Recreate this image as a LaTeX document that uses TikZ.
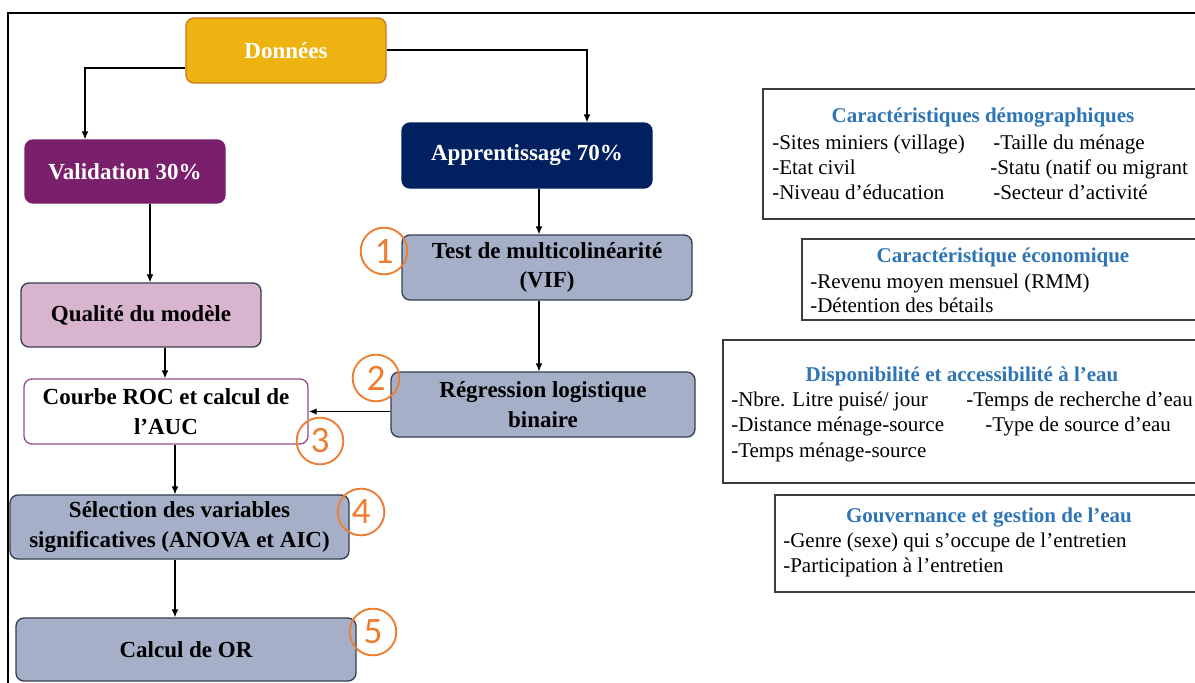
\documentclass[tikz,border=0pt]{standalone}
\usepackage{fontspec}
\setmainfont{Liberation Serif}
\newfontfamily\chiffres{Carlito}
\usetikzlibrary{arrows.meta}
\definecolor{jaune}{RGB}{238,178,17}
\definecolor{jaunebord}{RGB}{200,120,30}
\definecolor{violet}{RGB}{122,31,107}
\definecolor{marine}{RGB}{0,32,96}
\definecolor{grisbleu}{RGB}{166,175,200}
\definecolor{grisbord}{RGB}{52,62,78}
\definecolor{rose}{RGB}{217,180,207}
\definecolor{orangenum}{RGB}{237,125,49}
\definecolor{bleutitre}{RGB}{46,117,182}
\definecolor{cadregris}{RGB}{60,60,60}
\tikzset{
    etape/.style={rounded corners=6pt, line width=1pt, align=center, inner sep=2pt, font=\fontsize{17.25}{22}\selectfont\bfseries},
    gris/.style={etape, fill=grisbleu, draw=grisbord},
    fleche/.style={-{Latex[length=6pt,width=5pt]}, line width=0.8pt},
    numero/.style={circle, draw=orangenum, line width=1.4pt, minimum size=35pt, inner sep=0pt, text=orangenum, font=\chiffres\fontsize{28}{28}\selectfont},
    liste/.style={anchor=mid west, inner sep=0pt, font=\fontsize{15.75}{18}\selectfont},
    titre/.style={anchor=mid, inner sep=0pt, text=bleutitre, font=\fontsize{15.75}{18}\selectfont\bfseries},
    cadre/.style={draw=cadregris, line width=1.1pt, fill=white}
}
\begin{document}
\begin{tikzpicture}[x=0.75pt, y=-0.75pt]
    \useasboundingbox (0,0) rectangle (1195,682);
    \clip (0,0) rectangle (1195,682);
    \draw[line width=1.4pt] (8,690) -- (8,13) -- (1200,13);

    \node[etape, fill=jaune, draw=jaunebord, text=white, minimum width=150pt, minimum height=48.75pt] (donnees) at (286,50.5) {Données};
    \node[etape, fill=violet, draw=violet, text=white, minimum width=150pt, minimum height=47.25pt] (valid) at (125,171.5) {Validation 30\%};
    \node[etape, fill=marine, draw=marine, text=white, minimum width=187.5pt, minimum height=48.75pt] (appr) at (527,155.5) {Apprentissage 70\%};
    \node[gris, minimum width=217.5pt, minimum height=48.75pt] (vif) at (547,267.5) {Test de multicolinéarité\\(VIF)};
    \node[etape, fill=rose, draw=grisbord, minimum width=180pt, minimum height=48pt] (qual) at (141,315) {Qualité du modèle};
    \node[gris, minimum width=228pt, minimum height=48.75pt] (regr) at (543,404.5) {Régression logistique\\binaire};
    \node[etape, fill=white, draw=violet!80, minimum width=213pt, minimum height=48.75pt] (roc) at (166,411.5) {Courbe ROC et calcul de\\l’AUC};
    \node[gris, minimum width=254.25pt, minimum height=48pt] (sel) at (179.5,527) {Sélection des variables\\significatives (ANOVA et AIC)};
    \node[gris, minimum width=255pt, minimum height=47.25pt] (calc) at (186,649.5) {Calcul de OR};

    \coordinate (gauche) at (85,68);
    \coordinate (droite) at (587,50);
    \coordinate (col1) at (150,0);
    \coordinate (col2) at (165,0);
    \coordinate (col3) at (175,0);
    \coordinate (col4) at (539,0);
    \draw[fleche] (donnees.west |- gauche) -| (valid.north -| gauche);
    \draw[fleche] (donnees.east |- droite) -| (appr.north -| droite);
    \draw[fleche] (appr.south -| col4) -- (vif.north -| col4);
    \draw[fleche] (vif.south -| col4) -- (regr.north -| col4);
    \draw[fleche] (valid.south -| col1) -- (qual.north -| col1);
    \draw[fleche] (qual.south -| col2) -- (roc.north -| col2);
    \draw[fleche, line width=1.3pt] (roc.east -| regr.west) -- (roc.east);
    \draw[fleche] (roc.south -| col3) -- (sel.north -| col3);
    \draw[fleche] (sel.south -| col3) -- (calc.north -| col3);

    \node[numero] (n1) at (384,251) {1};
    \node[numero] (n2) at (376,378) {2};
    \node[numero] (n3) at (320,441) {3};
    \node[numero] (n4) at (361,512) {4};
    \node[numero] (n5) at (373,632) {5};

    \draw[cadre] (763,89) rectangle (1215,219);
    \node[titre] (tdemo) at (983,119) {Caractéristiques démographiques};
    \node[liste] (d1) at (772,146) {-Sites miniers (village)};
    \node[liste] (d2) at (993,146) {-Taille du ménage};
    \node[liste] (d3) at (772,171) {-Etat civil};
    \node[liste] (d4) at (990,171) {-Statu (natif ou migrant};
    \node[liste] (d5) at (772,196) {-Niveau d’éducation};
    \node[liste] (d6) at (993,196) {-Secteur d’activité};

    \draw[cadre] (802,239) rectangle (1215,320);
    \node[titre] (teco) at (1003,259) {Caractéristique économique};
    \node[liste] (e1) at (810,285) {-Revenu moyen mensuel (RMM)};
    \node[liste] (e2) at (810,309) {-Détention des bétails};

    \draw[cadre] (723,340) rectangle (1215,483);
    \node[titre] (teau) at (962,378) {Disponibilité et accessibilité à l’eau};
    \node[liste] (a1) at (731,403) {-Nbre. Litre puisé/ jour};
    \node[liste] (a2) at (966,403) {-Temps de recherche d’eau};
    \node[liste] (a3) at (731,428) {-Distance ménage-source};
    \node[liste] (a4) at (985,428) {-Type de source d’eau};
    \node[liste] (a5) at (731,454) {-Temps ménage-source};

    \draw[cadre] (775,495) rectangle (1215,592);
    \node[titre] (tgouv) at (989,519) {Gouvernance et gestion de l’eau};
    \node[liste] (g1) at (783,544) {-Genre (sexe) qui s’occupe de l’entretien};
    \node[liste] (g2) at (783,569) {-Participation à l’entretien};
\end{tikzpicture}
\end{document}
